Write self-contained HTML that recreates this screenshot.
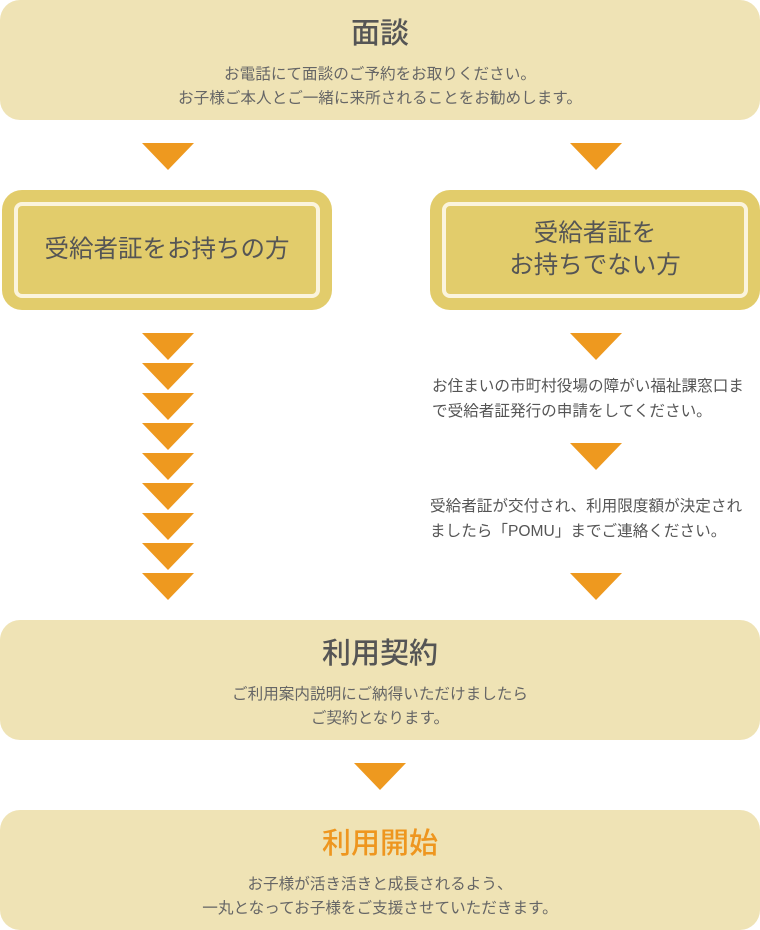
<!DOCTYPE html>
<html><head><meta charset="utf-8"><style>
body{margin:0;width:760px;height:930px;position:relative;background:#fff;font-family:"Liberation Sans","Noto Sans CJK JP",sans-serif;color:#555;overflow:hidden}
.box{position:absolute;left:0;width:760px;height:120px;background:#efe3b5;border-radius:20px;text-align:center}
.box h2{margin:0;font-size:29px;font-weight:500;color:#555;position:absolute;left:0;right:0;top:14px;line-height:40px}
.box p{margin:0;font-size:15.6px;line-height:24px;position:absolute;left:0;right:0;top:63px;color:#666}
.g{position:absolute;top:190px;width:330px;height:120px;background:#e2cc6b;border-radius:20px}
.g .in{position:absolute;left:12px;top:12px;right:12px;bottom:12px;border:4px solid #fbf4dc;border-radius:8px;display:flex;align-items:center;justify-content:center;text-align:center;font-size:24.5px;line-height:32px;color:#555}
.a{position:absolute;width:0;height:0;border-left:26px solid transparent;border-right:26px solid transparent;border-top:27px solid #ee991f}
.t{position:absolute;left:430px;font-size:15.6px;line-height:25px;color:#555;white-space:nowrap}
</style></head><body>
<div class="box" style="top:0"><h2>面談</h2><p>お電話にて面談のご予約をお取りください。<br>お子様ご本人とご一緒に来所されることをお勧めします。</p></div>
<div class="a" style="left:142px;top:143px"></div>
<div class="a" style="left:570px;top:143px"></div>
<div class="g" style="left:2px"><div class="in">受給者証をお持ちの方</div></div>
<div class="g" style="left:430px"><div class="in">受給者証を<br>お持ちでない方</div></div>
<div class="a" style="left:142px;top:333px"></div>
<div class="a" style="left:142px;top:363px"></div>
<div class="a" style="left:142px;top:393px"></div>
<div class="a" style="left:142px;top:423px"></div>
<div class="a" style="left:142px;top:453px"></div>
<div class="a" style="left:142px;top:483px"></div>
<div class="a" style="left:142px;top:513px"></div>
<div class="a" style="left:142px;top:543px"></div>
<div class="a" style="left:142px;top:573px"></div>
<div class="a" style="left:570px;top:333px"></div>
<div class="t" style="top:374px;left:432px">お住まいの市町村役場の障がい福祉課窓口ま<br>で受給者証発行の申請をしてください。</div>
<div class="a" style="left:570px;top:443px"></div>
<div class="t" style="top:494px">受給者証が交付され、利用限度額が決定され<br>ましたら「POMU」までご連絡ください。</div>
<div class="a" style="left:570px;top:573px"></div>
<div class="box" style="top:620px"><h2>利用契約</h2><p>ご利用案内説明にご納得いただけましたら<br>ご契約となります。</p></div>
<div class="a" style="left:354px;top:763px"></div>
<div class="box" style="top:810px"><h2 style="color:#ee961f">利用開始</h2><p>お子様が活き活きと成長されるよう、<br>一丸となってお子様をご支援させていただきます。</p></div>
</body></html>
